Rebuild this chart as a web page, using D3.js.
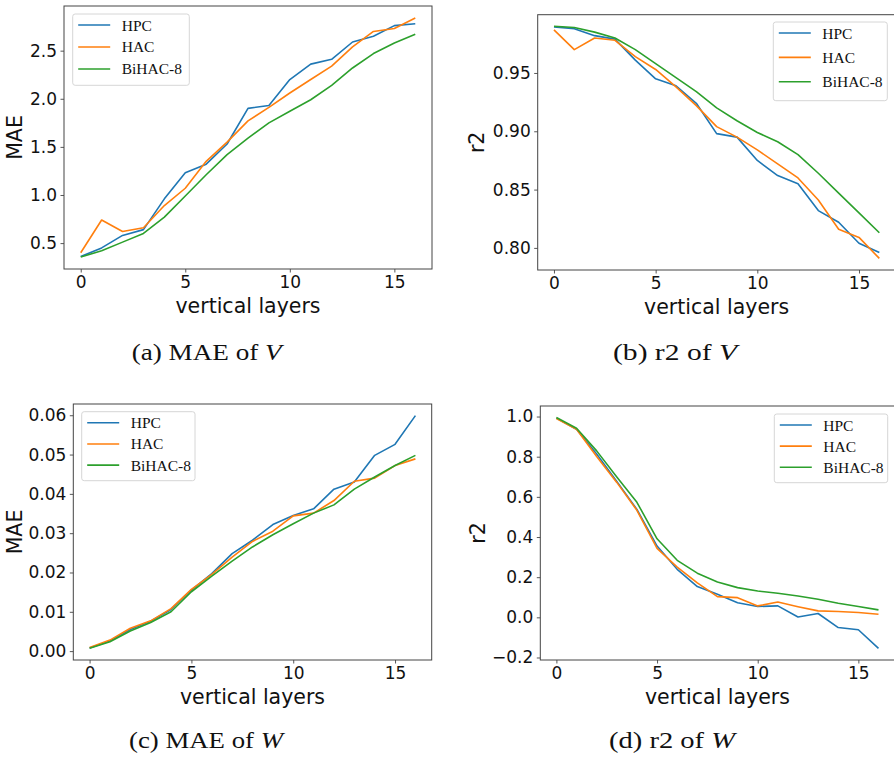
<!DOCTYPE html>
<html><head><meta charset="utf-8">
<script src="https://cdn.jsdelivr.net/npm/d3@7"></script>
<style>body{margin:0;background:#fff;}svg{display:block;}</style>
</head><body>
<svg id="chart" width="894" height="757"></svg>
<script>
// ---- data ----
const layers = d3.range(0, 17);
const seriesNames = ["HPC", "HAC", "BiHAC-8"];
const xTicks = [0, 5, 10, 15];

const maeV_HPC   = [0.36,0.45,0.58,0.64,0.96,1.23,1.32,1.53,1.90,1.93,2.20,2.36,2.41,2.59,2.65,2.76,2.78];
const maeV_HAC   = [0.40,0.74,0.62,0.66,0.89,1.07,1.35,1.55,1.77,1.91,2.06,2.20,2.34,2.54,2.70,2.73,2.84];
const maeV_Bi    = [0.355,0.42,0.51,0.60,0.77,0.99,1.21,1.42,1.59,1.75,1.87,1.99,2.14,2.32,2.47,2.58,2.67];

const r2V_HPC    = [0.9895,0.988,0.982,0.979,0.961,0.945,0.939,0.924,0.898,0.895,0.875,0.862,0.855,0.832,0.822,0.804,0.796];
const r2V_HAC    = [0.987,0.970,0.980,0.978,0.964,0.953,0.938,0.922,0.904,0.895,0.884,0.872,0.860,0.841,0.816,0.809,0.791];
const r2V_Bi     = [0.990,0.989,0.985,0.980,0.970,0.958,0.946,0.934,0.920,0.909,0.899,0.891,0.880,0.864,0.847,0.830,0.813];

const maeW_HPC   = [0.0008,0.0026,0.0055,0.0076,0.0106,0.0155,0.0197,0.0248,0.0282,0.0322,0.0345,0.0362,0.0412,0.0430,0.0498,0.0526,0.0599];
const maeW_HAC   = [0.0009,0.0028,0.0058,0.0077,0.0108,0.0157,0.0195,0.0239,0.0279,0.0305,0.0344,0.0351,0.0383,0.0432,0.0440,0.0472,0.0489];
const maeW_Bi    = [0.0007,0.0024,0.0051,0.0073,0.0100,0.0151,0.0191,0.0229,0.0265,0.0296,0.0324,0.0351,0.0372,0.0412,0.0443,0.0472,0.0498];

const r2W_HPC    = [0.992,0.937,0.813,0.677,0.537,0.355,0.239,0.153,0.115,0.073,0.054,0.057,0.002,0.019,-0.051,-0.062,-0.155];
const r2W_HAC    = [0.990,0.937,0.801,0.672,0.533,0.343,0.250,0.172,0.103,0.098,0.057,0.076,0.053,0.032,0.029,0.024,0.015];
const r2W_Bi     = [0.995,0.942,0.829,0.699,0.573,0.391,0.284,0.220,0.176,0.148,0.131,0.120,0.106,0.090,0.070,0.054,0.037];

const yTicksA = [0.5,1.0,1.5,2.0,2.5];
const yTicksB = [0.80,0.85,0.90,0.95];
const yTicksC = [0.00,0.01,0.02,0.03,0.04,0.05,0.06];
const yTicksD = [-0.2,0.0,0.2,0.4,0.6,0.8,1.0];

const colors = ["#1f77b4", "#ff7f0e", "#2ca02c"];

// ---- layout ----
const panels = [
  {series:[maeV_HPC,maeV_HAC,maeV_Bi], yTicks:yTicksA, fmt:".1f", ylabel:"MAE",
   box:{l:64,r:432,t:6,b:269}, ylabX:22, leg:{x:72.7,y:14,w:116.6,h:71.3},
   cap:{pre:"(a) MAE of ", v:"V", x:131.7, y:360, len:150}},
  {series:[r2V_HPC,r2V_HAC,r2V_Bi], yTicks:yTicksB, fmt:".2f", ylabel:"r2",
   box:{l:537.7,r:895.6,t:14.7,b:270}, ylabX:484, leg:{x:773.3,y:22,w:114,h:78.7},
   cap:{pre:"(b) r2 of ", v:"V", x:613, y:360, len:124}},
  {series:[maeW_HPC,maeW_HAC,maeW_Bi], yTicks:yTicksC, fmt:".2f", ylabel:"MAE",
   box:{l:73.3,r:431.7,t:404,b:660}, ylabX:21.5, leg:{x:81.7,y:411.7,w:113.3,h:69},
   cap:{pre:"(c) MAE of ", v:"W", x:129, y:748, len:154}},
  {series:[r2W_HPC,r2W_HAC,r2W_Bi], yTicks:yTicksD, fmt:".1f", ylabel:"r2",
   box:{l:540.3,r:894.6,t:406,b:660}, ylabX:484.5, leg:{x:774.3,y:414,w:113.4,h:68.7},
   cap:{pre:"(d) r2 of ", v:"W", x:609, y:748, len:126}}
];

const svg = d3.select("#chart");
const minus = s => s.replace("-", "\u2212");

panels.forEach((p, pi) => {
  const B = p.box;
  const xExt = d3.extent(layers);
  const xPad = (xExt[1]-xExt[0])*0.05;
  const x = d3.scaleLinear().domain([xExt[0]-xPad, xExt[1]+xPad]).range([B.l, B.r]);
  const all = p.series.flat();
  const yExt = d3.extent(all);
  const yPad = (yExt[1]-yExt[0])*0.05;
  const y = d3.scaleLinear().domain([yExt[0]-yPad, yExt[1]+yPad]).range([B.b, B.t]);

  const g = svg.append("g");
  const clipId = "clip"+pi;
  svg.append("clipPath").attr("id", clipId).append("rect")
    .attr("x", B.l).attr("y", B.t).attr("width", B.r-B.l).attr("height", B.b-B.t);

  // lines
  const line = d3.line().x((d,i)=>x(layers[i])).y(d=>y(d));
  p.series.forEach((s, si) => {
    g.append("path").datum(s).attr("d", line)
      .attr("fill","none").attr("stroke", colors[si]).attr("stroke-width",1.6)
      .attr("stroke-linejoin","round").attr("clip-path", `url(#${clipId})`);
  });

  // axes
  const xAxis = d3.axisBottom(x).tickValues(xTicks).tickSize(3.5).tickPadding(3.5).tickFormat(d3.format("d"));
  const gx = g.append("g").attr("transform", `translate(0,${B.b})`).call(xAxis);
  const yAxis = d3.axisLeft(y).tickValues(p.yTicks).tickSize(3.5).tickPadding(3.5)
    .tickFormat(d => minus(d3.format(p.fmt)(d)));
  const gy = g.append("g").attr("transform", `translate(${B.l},0)`).call(yAxis);
  [gx, gy].forEach(a => {
    a.select(".domain").remove();
    a.selectAll(".tick line").attr("stroke","#444").attr("stroke-width",0.9);
    a.selectAll(".tick text").attr("font-family","DejaVu Sans").attr("font-size",17).attr("fill","#111");
  });

  // frame
  g.append("rect").attr("x",B.l).attr("y",B.t).attr("width",B.r-B.l).attr("height",B.b-B.t)
    .attr("fill","none").attr("stroke","#444").attr("stroke-width",1);

  // axis labels
  g.append("text").attr("x",(B.l+B.r)/2).attr("y", B.b+44)
    .attr("text-anchor","middle").attr("font-family","DejaVu Sans").attr("font-size",20.5)
    .attr("fill","#111").text("vertical layers");
  g.append("text").attr("transform",`translate(${p.ylabX},${(B.t+B.b)/2}) rotate(-90)`)
    .attr("text-anchor","middle").attr("font-family","DejaVu Sans").attr("font-size",20.5)
    .attr("fill","#111").text(p.ylabel);

  // legend
  const L = p.leg;
  const lg = g.append("g");
  lg.append("rect").attr("x",L.x).attr("y",L.y).attr("width",L.w).attr("height",L.h)
    .attr("rx",2.5).attr("fill","#fff").attr("fill-opacity",0.85).attr("stroke","#d6d6d6").attr("stroke-width",1);
  const step = (L.h - 4) / 3;
  seriesNames.forEach((n, si) => {
    const yy = L.y + 11 + si*step*0.98;
    lg.append("line").attr("x1",L.x+5.5).attr("x2",L.x+37.5).attr("y1",yy).attr("y2",yy)
      .attr("stroke",colors[si]).attr("stroke-width",1.6);
    lg.append("text").attr("x",L.x+49).attr("y",yy+5.5).attr("font-family","Liberation Serif")
      .attr("font-size",15.5).attr("fill","#111").text(n);
  });

  // caption
  const c = p.cap;
  const t = svg.append("text").attr("x",c.x).attr("y",c.y).attr("font-family","Liberation Serif")
    .attr("font-size",23.5).attr("fill","#111").attr("textLength",c.len).attr("lengthAdjust","spacingAndGlyphs");
  t.append("tspan").text(c.pre);
  t.append("tspan").attr("font-style","italic").text(c.v);
});
</script>
</body></html>
